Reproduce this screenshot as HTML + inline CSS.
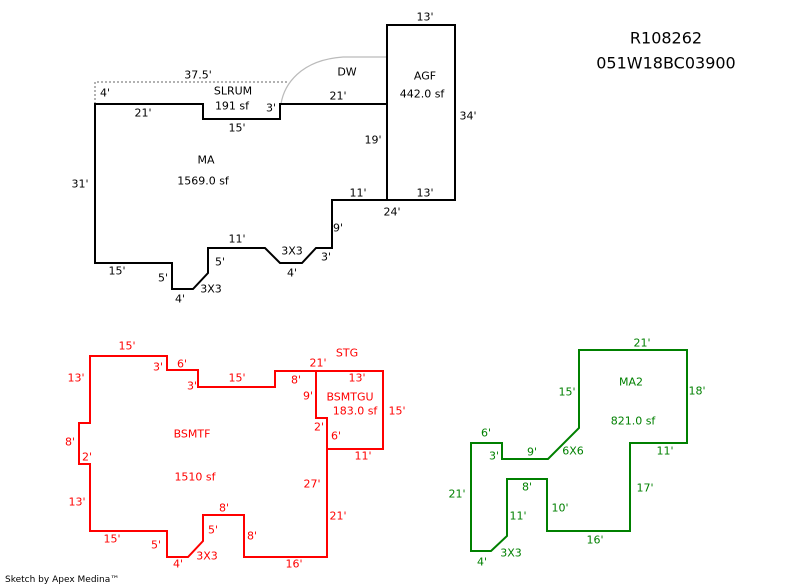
<!DOCTYPE html>
<html><head><meta charset="utf-8"><style>
html,body{margin:0;padding:0;background:#fff;}
svg{display:block;}
text{font-family:"DejaVu Sans","Liberation Sans",sans-serif;font-size:11px;text-anchor:middle;dominant-baseline:central;}
</style></head><body>
<svg width="800" height="587" viewBox="0 0 800 587" xmlns="http://www.w3.org/2000/svg">
<rect width="800" height="587" fill="#fff"/>
<!-- top sketch -->
<polyline points="95,104 95,82 288,82" fill="none" stroke="#999" stroke-width="1.5" stroke-dasharray="2,2"/>
<path d="M281,104 C284,85 300,60 343,57 L387,57" fill="none" stroke="#bbb" stroke-width="1.2"/>
<polygon points="95,104 203,104 203,119 280,119 280,104 387,104 387,200 332,200 332,248 316,248 302,263 280,263 265,248 208,248 208,273 193,289 172,289 172,263 95,263" fill="none" stroke="#000" stroke-width="2"/>
<rect x="387" y="25" width="68" height="175" fill="none" stroke="#000" stroke-width="2"/>
<g fill="#000">
<text x="425" y="17">13'</text><text x="347" y="72">DW</text><text x="425" y="76">AGF</text>
<text x="422" y="94">442.0 sf</text><text x="468" y="116">34'</text><text x="198" y="75">37.5'</text>
<text x="105" y="93">4'</text><text x="233" y="91">SLRUM</text><text x="232" y="106">191 sf</text>
<text x="271" y="108">3'</text><text x="338" y="96">21'</text><text x="143" y="113">21'</text>
<text x="237" y="128">15'</text><text x="373" y="140">19'</text><text x="206" y="160">MA</text>
<text x="203" y="181">1569.0 sf</text><text x="80" y="184">31'</text><text x="358" y="193">11'</text>
<text x="425" y="193">13'</text><text x="392" y="212">24'</text><text x="338" y="228">9'</text>
<text x="237" y="239">11'</text><text x="292" y="251">3X3</text><text x="326" y="257">3'</text>
<text x="220" y="262">5'</text><text x="292" y="273">4'</text><text x="117" y="271">15'</text>
<text x="163" y="278">5'</text><text x="211" y="289">3X3</text><text x="180" y="299">4'</text>
</g>
<text x="666" y="38" style="font-size:16px">R108262</text>
<text x="666" y="63" style="font-size:16px">051W18BC03900</text>
<!-- red -->
<polygon points="90,356 167,356 167,370 198,370 198,387 275,387 275,371 316,371 316,418 327,418 327,557 244,557 244,515 203,515 203,541 188,557 167,557 167,531 90,531 90,464 79,464 79,423 90,423" fill="none" stroke="#f00" stroke-width="2"/>
<polyline points="316,371 383,371 383,449 327,449" fill="none" stroke="#f00" stroke-width="2"/>
<g fill="#f00">
<text x="127" y="346">15'</text><text x="347" y="353">STG</text><text x="76" y="378">13'</text>
<text x="158" y="367">3'</text><text x="182" y="364">6'</text><text x="318" y="363">21'</text>
<text x="357" y="378">13'</text><text x="237" y="378">15'</text><text x="192" y="386">3'</text>
<text x="296" y="380">8'</text><text x="308" y="396">9'</text><text x="350" y="397">BSMTGU</text>
<text x="355" y="411">183.0 sf</text><text x="397" y="411">15'</text><text x="319" y="427">2'</text>
<text x="336" y="436">6'</text><text x="192" y="434">BSMTF</text><text x="70" y="442">8'</text>
<text x="87" y="457">2'</text><text x="363" y="456">11'</text><text x="195" y="477">1510 sf</text>
<text x="312" y="484">27'</text><text x="77" y="502">13'</text><text x="224" y="508">8'</text>
<text x="338" y="516">21'</text><text x="213" y="530">5'</text><text x="112" y="539">15'</text>
<text x="252" y="536">8'</text><text x="156" y="545">5'</text><text x="207" y="556">3X3</text>
<text x="178" y="564">4'</text><text x="294" y="564">16'</text>
</g>
<!-- green -->
<polygon points="579,350 687,350 687,443 630,443 630,531 547,531 547,479 507,479 507,536 491,551 471,551 471,443 502,443 502,459 548,459 579,428" fill="none" stroke="#008000" stroke-width="2"/>
<g fill="#008000">
<text x="642" y="343">21'</text><text x="631" y="382">MA2</text><text x="567" y="392">15'</text>
<text x="697" y="391">18'</text><text x="633" y="421">821.0 sf</text><text x="486" y="433">6'</text>
<text x="494" y="456">3'</text><text x="532" y="452">9'</text><text x="573" y="451">6X6</text>
<text x="665" y="451">11'</text><text x="527" y="487">8'</text><text x="645" y="488">17'</text>
<text x="457" y="494">21'</text><text x="560" y="508">10'</text><text x="518" y="516">11'</text>
<text x="595" y="540">16'</text><text x="511" y="553">3X3</text><text x="482" y="562">4'</text>
</g>
<text x="5" y="580" style="font-size:9px;text-anchor:start">Sketch by Apex Medina™</text>
</svg>
</body></html>
